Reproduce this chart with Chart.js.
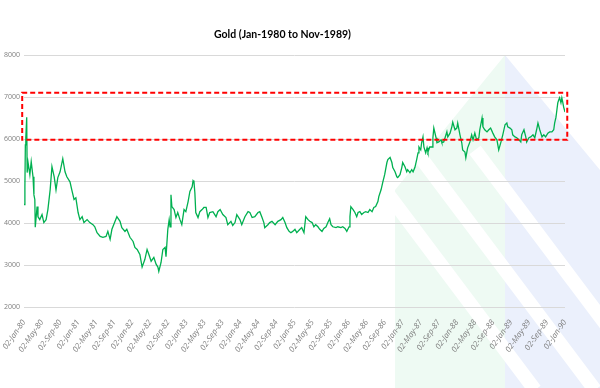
<!DOCTYPE html>
<html>
<head>
<meta charset="utf-8">
<script src="https://cdn.jsdelivr.net/npm/chart.js@4"></script>
<style>
  body { margin: 0; background: #fff; }
  #wrap { width: 600px; height: 388px; position: relative; }
</style>
</head>
<body>
<div id="wrap"><canvas id="myChart" width="600" height="388"></canvas></div>
<script>
// months since 02-Jan-80 and gold values
var months = [0.0, 0.2, 0.3, 0.4, 0.6, 0.7, 0.9, 1.3, 1.6, 2.0, 2.2, 2.4, 2.5, 2.9, 3.1, 3.5, 4.0, 4.4, 4.9, 5.3,
  5.8, 6.2, 6.7, 7.1, 7.5, 8.0, 8.6, 9.1, 9.5, 10.2, 10.6, 11.1, 11.5, 12.0, 12.4, 12.9, 13.3, 14.0, 14.6, 15.3,
  15.7, 16.2, 16.9, 17.5, 18.2, 18.6, 19.1, 19.5, 20.2, 20.6, 21.3, 21.7, 22.4, 22.8, 23.5, 24.2, 24.6, 25.1, 25.7, 26.2,
  26.8, 27.3, 27.7, 28.2, 28.8, 29.3, 29.7, 29.9, 30.4, 30.8, 31.3, 31.5, 31.9, 32.2, 32.4, 32.6, 32.8, 33.3, 33.7, 34.1,
  34.6, 35.0, 35.5, 35.9, 36.4, 36.8, 37.3, 37.5, 37.7, 37.9, 38.1, 38.6, 39.0, 39.5, 39.9, 40.4, 40.8, 41.2, 41.9, 42.6,
  43.0, 43.5, 44.1, 44.8, 45.2, 45.9, 46.3, 46.8, 47.2, 47.9, 48.3, 49.0, 49.7, 50.1, 50.6, 51.2, 51.9, 52.3, 52.8, 53.2,
  53.4, 54.1, 54.5, 55.0, 55.7, 56.3, 57.0, 57.4, 57.9, 58.3, 58.8, 59.2, 59.6, 60.1, 60.5, 61.2, 61.6, 62.1, 62.5, 63.0,
  63.4, 63.9, 64.3, 64.7, 65.2, 65.6, 66.1, 66.5, 67.0, 67.4, 67.8, 68.1, 68.5, 69.2, 69.6, 70.3, 70.7, 71.2, 71.6, 72.1,
  72.3, 72.5, 73.0, 73.4, 73.8, 74.1, 74.5, 74.9, 75.4, 75.8, 76.3, 76.7, 77.2, 77.6, 78.0, 78.5, 78.7, 79.2, 79.6, 80.0,
  80.5, 80.7, 81.2, 81.6, 81.8, 82.3, 82.7, 82.9, 83.4, 83.8, 84.0, 84.5, 84.9, 85.1, 85.6, 86.0, 86.3, 86.7, 87.1, 87.4,
  87.6, 88.0, 88.2, 88.5, 88.7, 89.1, 89.4, 89.6, 90.0, 90.5, 90.7, 90.9, 91.4, 91.6, 92.0, 92.5, 92.7, 93.1, 93.6, 93.8,
  94.0, 94.5, 94.9, 95.1, 95.6, 96.0, 96.2, 96.7, 97.1, 97.3, 97.8, 98.0, 98.2, 98.4, 98.9, 99.3, 99.6, 100.0, 100.4, 100.9,
  101.1, 101.6, 101.8, 102.2, 102.7, 103.1, 103.5, 104.0, 104.4, 104.9, 105.1, 105.3, 105.8, 106.2, 106.7, 107.1, 107.3, 107.8, 108.2, 108.4,
  108.9, 109.3, 109.8, 110.2, 110.4, 110.9, 111.3, 111.5, 112.0, 112.4, 112.9, 113.3, 113.7, 114.0, 114.4, 114.9, 115.3, 115.7, 116.2, 116.6,
  117.1, 117.5, 117.7, 118.0, 118.2, 118.4, 118.6, 118.8, 119.1, 119.3, 119.5, 119.7, 120.0];
var gold = [4440, 4860, 5860, 6030, 6520, 5200, 5440, 5150, 5460, 5100, 4670, 4560, 3900, 4390, 4150, 4080, 4200, 4010, 4080, 4320,
  4790, 5340, 5100, 4790, 5080, 5220, 5530, 5220, 5100, 4980, 4790, 4560, 4600, 4250, 4080, 4150, 4010, 4080, 4010, 3960,
  3910, 3770, 3680, 3660, 3680, 3800, 3610, 3850, 4040, 4150, 4040, 3890, 3800, 3850, 3660, 3560, 3420, 3370, 3250, 2950,
  3130, 3370, 3250, 3090, 3180, 3020, 2950, 2850, 3060, 3370, 3420, 3200, 3850, 4080, 3910, 4670, 4390, 4320, 4130, 4250,
  4080, 3960, 4320, 4270, 4510, 4750, 4860, 5010, 4980, 4720, 4250, 4130, 4270, 4320, 4370, 4370, 4130, 4250, 4270, 4150,
  4270, 4320, 4200, 4130, 3960, 4040, 3940, 4010, 4200, 4080, 3960, 4150, 4270, 4250, 4130, 4150, 4250, 4270, 4130, 4010,
  3890, 3960, 4010, 4040, 3960, 4040, 4080, 4130, 4010, 3890, 3800, 3770, 3800, 3850, 3770, 3850, 3890, 3770, 4150, 4080,
  4040, 4010, 3910, 3960, 3910, 3850, 3800, 3870, 3910, 4010, 4100, 3960, 3910, 3890, 3910, 3890, 3910, 3870, 3800, 3910,
  4150, 4390, 4320, 4250, 4150, 4250, 4270, 4200, 4250, 4270, 4250, 4320, 4270, 4370, 4390, 4510, 4630, 4790, 4980, 5150,
  5440, 5510, 5560, 5440, 5320, 5220, 5100, 5080, 5150, 5320, 5440, 5340, 5220, 5270, 5200, 5270, 5220, 5320, 5510, 5670,
  5810, 5740, 5910, 6050, 5810, 5670, 5790, 5690, 5810, 5810, 6030, 6260, 6030, 5910, 5930, 5980, 5910, 5930, 6100, 6170,
  6050, 6140, 6290, 6400, 6220, 6260, 6380, 6100, 5910, 5740, 5690, 5550, 5670, 5790, 5930, 6100, 5980, 6140, 5980, 6030,
  6220, 6500, 6290, 6220, 6170, 6220, 6260, 6140, 6050, 5980, 5860, 5740, 5930, 6100, 6340, 6380, 6290, 6260, 6220, 6100,
  6050, 6030, 5980, 5930, 6100, 6220, 6050, 5930, 6030, 6050, 6100, 6030, 6220, 6380, 6220, 6050, 6100, 6050, 6140, 6170,
  6170, 6220, 6380, 6520, 6690, 6860, 6930, 6980, 6860, 6980, 6880, 6760, 6640];

var tickLabels = ["02-Jan-80", "02-May-80", "02-Sep-80", "02-Jan-81", "02-May-81", "02-Sep-81", "02-Jan-82", "02-May-82",
  "02-Sep-82", "02-Jan-83", "02-May-83", "02-Sep-83", "02-Jan-84", "02-May-84", "02-Sep-84", "02-Jan-85", "02-May-85",
  "02-Sep-85", "02-Jan-86", "02-May-86", "02-Sep-86", "02-Jan-87", "02-May-87", "02-Sep-87", "02-Jan-88", "02-May-88",
  "02-Sep-88", "02-Jan-89", "02-May-89", "02-Sep-89", "02-Jan-90"];
var yTicks = [2000, 3000, 4000, 5000, 6000, 7000, 8000];
var boxRange = { x0: -0.4, x1: 120.5, y0: 5980, y1: 7100 };

var points = months.map(function (m, i) { return { x: m, y: gold[i] }; });

// faint logo watermark behind the chart
var watermark = {
    id: "watermark",
    beforeDraw: function (chart) {
        var c = chart.ctx;
        c.save();
        c.beginPath();
        c.moveTo(505, 55);
        c.lineTo(600, 170);
        c.lineTo(600, 388);
        c.lineTo(395, 388);
        c.lineTo(395, 190);
        c.closePath();
        c.clip();
        c.fillStyle = "#eefaf3";
        c.fillRect(380, 40, 125, 360);
        c.fillStyle = "#ebf0fc";
        c.fillRect(505, 40, 100, 360);
        c.strokeStyle = "#ffffff";
        c.lineWidth = 14;
        [-40, 20, 80].forEach(function (o) {
            c.beginPath();
            c.moveTo(395 + o, 150);
            c.lineTo(395 + o + 180, 390);
            c.stroke();
        });
        c.restore();
    }
};

var redBox = {
    id: "redBox",
    afterDatasetsDraw: function (chart) {
        var c = chart.ctx, xs = chart.scales.x, ys = chart.scales.y;
        var l = xs.getPixelForValue(boxRange.x0), r = xs.getPixelForValue(boxRange.x1);
        var t = ys.getPixelForValue(boxRange.y1), b = ys.getPixelForValue(boxRange.y0);
        c.save();
        c.strokeStyle = "#ff0000";
        c.lineWidth = 2;
        c.setLineDash([5, 3]);
        c.strokeRect(l, t, r - l, b - t);
        c.restore();
    }
};

var ctx = document.getElementById("myChart").getContext("2d");
var myChart = new Chart(ctx, {
    type: "line",
    data: {
        datasets: [{
            label: "Gold",
            data: points,
            borderColor: "#00b050",
            borderWidth: 1.3,
            pointRadius: 0,
            tension: 0,
            fill: false
        }]
    },
    options: {
        responsive: false,
        animation: false,
        layout: { padding: { left: 0, right: 35, top: 0, bottom: 0 } },
        plugins: {
            legend: { display: false },
            tooltip: { enabled: false },
            title: {
                display: true,
                text: "Gold (Jan-1980 to Nov-1989)",
                color: "#000000",
                font: { family: "Lato", size: 10.5, weight: "bold" },
                padding: { top: 28, bottom: 14.4 }
            }
        },
        scales: {
            x: {
                type: "linear",
                min: 0,
                max: 120,
                afterBuildTicks: function (scale) {
                    scale.ticks = tickLabels.map(function (t, i) { return { value: i * 4 }; });
                },
                afterFit: function (scale) { scale.height = 81; },
                grid: { display: false },
                border: { display: false },
                ticks: {
                    autoSkip: false,
                    minRotation: 55,
                    maxRotation: 55,
                    color: "#7f7f7f",
                    font: { family: "Open Sans", size: 8, style: "italic" },
                    callback: function (v) { return tickLabels[Math.round(v / 4)]; }
                }
            },
            y: {
                min: 2000,
                max: 8000,
                afterBuildTicks: function (scale) {
                    scale.ticks = yTicks.map(function (v) { return { value: v }; });
                },
                afterFit: function (scale) { scale.width = 24; },
                grid: { color: "#d9d9d9", lineWidth: 1, drawTicks: false },
                border: { display: false },
                ticks: {
                    color: "#7f7f7f",
                    padding: 4,
                    font: { family: "Open Sans", size: 7 },
                    callback: function (v) { return String(v); }
                }
            }
        }
    },
    plugins: [watermark, redBox]
});
</script>
</body>
</html>
